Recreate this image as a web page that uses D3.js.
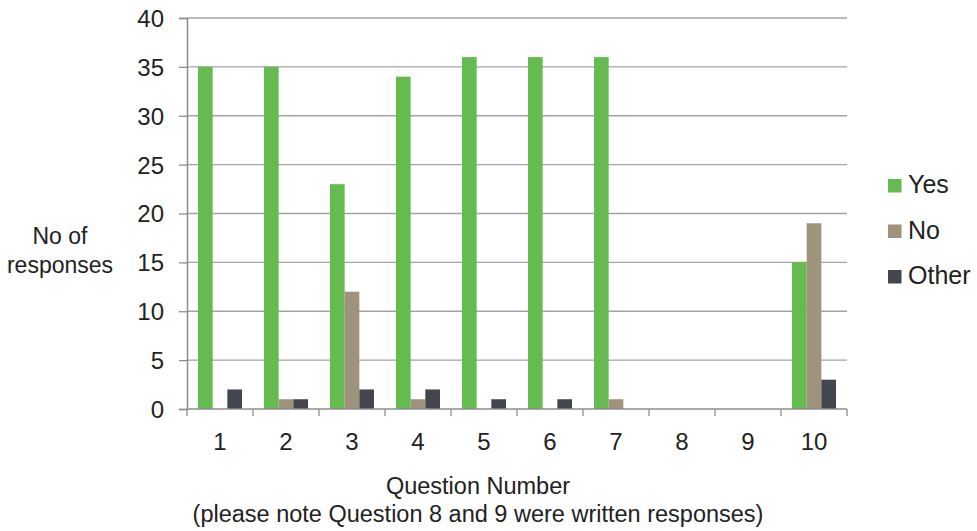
<!DOCTYPE html>
<html>
<head>
<meta charset="utf-8">
<script src="https://cdn.jsdelivr.net/npm/d3@7"></script>
<style>
  body { margin: 0; background: #fff; }
  text { font-family: "Liberation Sans", Arial, sans-serif; fill: #222; }
</style>
</head>
<body>
<div id="chart"></div>
<script>
// data
var questions = ["1", "2", "3", "4", "5", "6", "7", "8", "9", "10"];
var seriesNames = ["Yes", "No", "Other"];
var yesValues = [35, 35, 23, 34, 36, 36, 36, 0, 0, 15];
var noValues = [0, 1, 12, 1, 0, 0, 1, 0, 0, 19];
var otherValues = [2, 1, 2, 2, 1, 1, 0, 0, 0, 3];
var yTicks = [0, 5, 10, 15, 20, 25, 30, 35, 40];

var colors = ["#66bb50", "#a0937b", "#43464f"];

var svgWidth = 977;
var svgHeight = 531;
var margin = { left: 187, top: 18 };
var width = 660;
var height = 391;

var svg = d3.select("#chart")
  .append("svg")
  .attr("width", svgWidth)
  .attr("height", svgHeight);

var chartGroup = svg.append("g")
  .attr("transform", `translate(${margin.left}, ${margin.top})`);

// band covers the 3 bars, 1.5 bar-widths of gap between categories
var xScale = d3.scaleBand()
  .domain(questions)
  .range([0, width])
  .paddingInner(1 / 3)
  .paddingOuter(1 / 6);

var subScale = d3.scaleBand()
  .domain(seriesNames)
  .range([0, xScale.bandwidth()]);

var yScale = d3.scaleLinear()
  .domain([0, 40])
  .range([height, 0]);

// gridlines
chartGroup.append("g")
  .selectAll("line")
  .data(yTicks.slice(1))
  .enter()
  .append("line")
  .attr("x1", 0)
  .attr("x2", width)
  .attr("y1", d => yScale(d))
  .attr("y2", d => yScale(d))
  .attr("stroke", "#a3a3a3")
  .attr("stroke-width", 1.3);

// bars
var table = questions.map(function (q, i) {
  return { q: q, values: [yesValues[i], noValues[i], otherValues[i]] };
});

var groups = chartGroup.selectAll(".grp")
  .data(table)
  .enter()
  .append("g")
  .attr("class", "grp")
  .attr("transform", d => `translate(${xScale(d.q)},0)`);

groups.selectAll("rect")
  .data(d => d.values.map((v, j) => ({ name: seriesNames[j], v: v, c: colors[j] })))
  .enter()
  .append("rect")
  .attr("x", d => subScale(d.name))
  .attr("width", subScale.bandwidth())
  .attr("y", d => yScale(d.v))
  .attr("height", d => height - yScale(d.v))
  .attr("fill", d => d.c);

// y axis
var yAxis = d3.axisLeft(yScale).tickValues(yTicks).tickSize(8).tickPadding(15);
var yG = chartGroup.append("g").call(yAxis);
yG.select(".domain").attr("stroke", "#8c8c8c").attr("stroke-width", 1.5);
yG.selectAll(".tick line").attr("stroke", "#8c8c8c").attr("stroke-width", 1.3);
yG.selectAll(".tick text")
  .attr("font-size", "24px")
  .attr("dy", "0.35em")
  .attr("fill", "#222");

// x axis: ticks at category boundaries
var step = xScale.step();
var xG = chartGroup.append("g").attr("transform", `translate(0,${height})`);
xG.append("line")
  .attr("x1", 0).attr("x2", width)
  .attr("stroke", "#8c8c8c").attr("stroke-width", 1.5);
xG.selectAll(".bt")
  .data(d3.range(questions.length + 1))
  .enter()
  .append("line")
  .attr("x1", d => d * step).attr("x2", d => d * step)
  .attr("y1", 0).attr("y2", 7)
  .attr("stroke", "#8c8c8c").attr("stroke-width", 1.3);
xG.selectAll(".lbl")
  .data(questions)
  .enter()
  .append("text")
  .attr("x", d => xScale(d) + xScale.bandwidth() / 2)
  .attr("y", 41)
  .attr("text-anchor", "middle")
  .attr("font-size", "24px")
  .text(d => d);

// axis titles
var yTitle = svg.append("text")
  .attr("text-anchor", "middle")
  .attr("font-size", "23px");
yTitle.append("tspan").attr("x", 60).attr("y", 244).text("No of");
yTitle.append("tspan").attr("x", 60).attr("y", 273).text("responses");

var xTitle = svg.append("text")
  .attr("text-anchor", "middle")
  .attr("font-size", "23.5px");
xTitle.append("tspan").attr("x", 478).attr("y", 494).text("Question Number");
xTitle.append("tspan").attr("x", 478).attr("y", 522)
  .text("(please note Question 8 and 9 were written responses)");

// legend
var legend = svg.append("g").attr("transform", "translate(888,179)");
var items = legend.selectAll("g")
  .data(seriesNames)
  .enter()
  .append("g")
  .attr("transform", (d, i) => `translate(0,${i * 45.5})`);
items.append("rect")
  .attr("width", 13.5)
  .attr("height", 13.5)
  .attr("fill", (d, i) => colors[i]);
items.append("text")
  .attr("x", 20)
  .attr("y", 14)
  .attr("font-size", "25px")
  .text(d => d);
</script>
</body>
</html>
